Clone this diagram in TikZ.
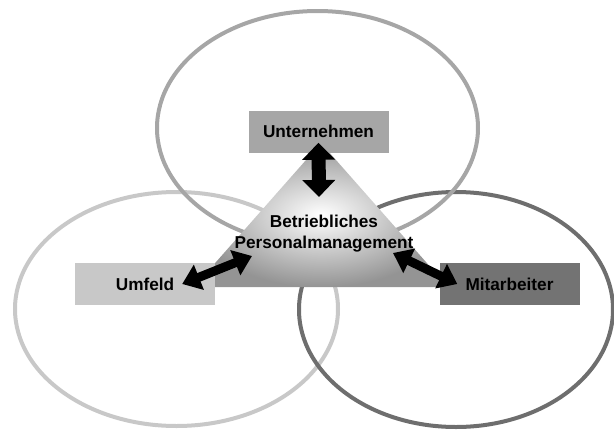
\documentclass[tikz,border=0pt]{standalone}
\usepackage{fontspec}
\setmainfont{Liberation Sans}
\usetikzlibrary{arrows.meta}

\definecolor{ringhell}{RGB}{200,200,200}
\definecolor{ringmittel}{RGB}{166,166,166}
\definecolor{ringdunkel}{RGB}{110,110,110}
\definecolor{boxdunkel}{RGB}{115,115,115}
\definecolor{dreieckrand}{RGB}{148,148,148}

\begin{document}
\begin{tikzpicture}[x=1pt,y=-1pt,
    ring/.style={line width=4pt},
    feld/.style={minimum width=140pt,minimum height=42pt,inner sep=0pt,
      font=\fontsize{17.2}{20}\selectfont\bfseries},
    pfeilgross/.style={line width=14pt,
      {Triangle[width=32pt,length=17pt]}-{Triangle[width=32pt,length=17pt]}},
    pfeilklein/.style={line width=9pt,
      {Triangle[width=26pt,length=18pt]}-{Triangle[width=26pt,length=18pt]}}]
  \useasboundingbox (0,0) rectangle (614,429);
  % drei Ringe
  \draw[ring,ringhell] (176.5,309) ellipse [x radius=161.5,y radius=117];
  \draw[ring,ringdunkel] (456,309.5) ellipse [x radius=157,y radius=117.5];
  \draw[ring,ringmittel] (317.5,128) ellipse [x radius=160.5,y radius=117];
  % Dreieck in der Mitte
  \shade[inner color=white,outer color=dreieckrand]
    (321,143) -- (448,287) -- (194,287) -- cycle;
  \node[align=center,font=\fontsize{17.2}{21}\selectfont\bfseries] (pm) at (324,233.5)
    {Betriebliches\\Personalmanagement};
  % Felder
  \node[feld,fill=ringmittel] (unt) at (318.5,131.5) {Unternehmen};
  \node[feld,fill=ringhell] (umf) at (145,284) {Umfeld};
  \node[feld,fill=boxdunkel] (mit) at (509.5,284) {Mitarbeiter};
  % Pfeile
  \coordinate (pmoben) at (319,197);
  \coordinate (pmlinks) at (252,256);
  \coordinate (pmrechts) at (393,253);
  \draw[pfeilgross] ([yshift=10pt]unt.south) -- (pmoben);
  \draw[pfeilklein] ([xshift=-33pt]umf.east) -- (pmlinks);
  \draw[pfeilklein] ([xshift=18pt]mit.west) -- (pmrechts);
\end{tikzpicture}
\end{document}
